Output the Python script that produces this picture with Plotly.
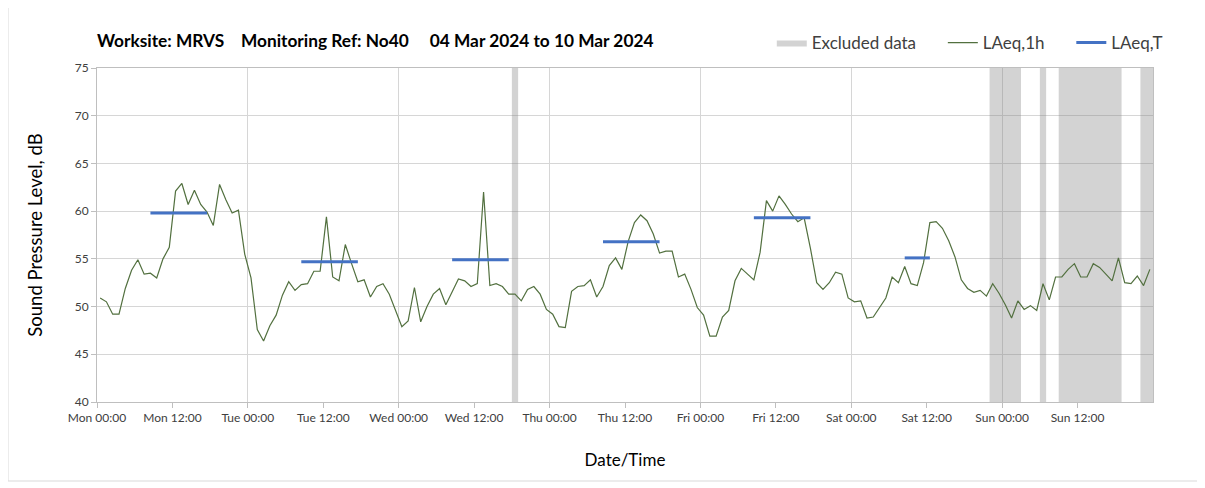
import pandas as pd
import plotly.graph_objects as go

# ---- data -------------------------------------------------------------
# Hourly LAeq,1h values (dB), Mon 04 Mar 2024 00:00 .. Sun 10 Mar 2024 23:00
laeq_mon = [50.9, 50.5, 49.2, 49.2, 51.9, 53.8, 54.9, 53.4, 53.5, 53.0, 55.0, 56.2,
            62.1, 62.9, 60.7, 62.2, 60.7, 59.9, 58.5, 62.8, 61.2, 59.8, 60.1, 55.5]
laeq_tue = [53.0, 47.6, 46.4, 48.0, 49.1, 51.2, 52.6, 51.7, 52.3, 52.4, 53.7, 53.7,
            59.4, 53.1, 52.7, 56.5, 54.5, 52.6, 52.8, 51.0, 52.1, 52.4, 51.3, 49.6]
laeq_wed = [47.9, 48.5, 52.0, 48.4, 50.0, 51.3, 51.9, 50.2, 51.6, 52.9, 52.7, 52.1,
            52.4, 62.0, 52.2, 52.4, 52.1, 51.3, 51.3, 50.6, 51.8, 52.1, 51.3, 49.7]
laeq_thu = [49.2, 47.9, 47.8, 51.6, 52.1, 52.2, 52.8, 51.0, 52.1, 54.3, 55.1, 53.9,
            56.8, 58.8, 59.6, 59.0, 57.6, 55.6, 55.8, 55.8, 53.1, 53.4, 51.8, 49.9]
laeq_fri = [49.1, 46.9, 46.9, 48.9, 49.6, 52.7, 54.0, 53.4, 52.8, 55.7, 61.1, 60.0,
            61.6, 60.7, 59.7, 58.9, 59.3, 56.1, 52.5, 51.8, 52.5, 53.6, 53.4, 50.9]
laeq_sat = [50.5, 50.6, 48.8, 48.9, 49.9, 50.9, 53.1, 52.5, 54.2, 52.4, 52.2, 54.6,
            58.8, 58.9, 58.2, 56.9, 55.2, 52.8, 51.9, 51.5, 51.7, 51.1, 52.4, 51.4]
laeq_sun = [50.2, 48.8, 50.6, 49.7, 50.1, 49.6, 52.4, 50.7, 53.1, 53.1, 53.9, 54.5,
            53.1, 53.1, 54.5, 54.1, 53.4, 52.7, 55.1, 52.5, 52.4, 53.2, 52.2, 53.9]

# LAeq,T over the working period of each day
laeqT_start = ["2024-03-04 08:30", "2024-03-05 08:30", "2024-03-06 08:30",
               "2024-03-07 08:30", "2024-03-08 08:30", "2024-03-09 08:30"]
laeqT_end = ["2024-03-04 17:30", "2024-03-05 17:30", "2024-03-06 17:30",
             "2024-03-07 17:30", "2024-03-08 17:30", "2024-03-09 12:30"]
laeqT_value = [59.8, 54.7, 54.9, 56.8, 59.3, 55.1]

# Excluded data periods
excl_start = ["2024-03-06 18:00", "2024-03-09 22:00", "2024-03-10 06:00",
              "2024-03-10 09:00", "2024-03-10 22:00"]
excl_end = ["2024-03-06 19:00", "2024-03-10 03:00", "2024-03-10 07:00",
            "2024-03-10 19:00", "2024-03-11 00:00"]

# Axis
x_start, x_end = "2024-03-04 00:00", "2024-03-11 00:00"
y_min, y_max = 40, 75

# ---- build -------------------------------------------------------------
laeq_1h = laeq_mon + laeq_tue + laeq_wed + laeq_thu + laeq_fri + laeq_sat + laeq_sun
times = pd.date_range("2024-03-04 00:30", periods=len(laeq_1h), freq="h")

ex_x, ex_y = [], []
for s, e in zip(excl_start, excl_end):
    ex_x += [s, s, e, e, s, None]
    ex_y += [y_min, y_max, y_max, y_min, y_min, None]

t_x, t_y = [], []
for s, e, v in zip(laeqT_start, laeqT_end, laeqT_value):
    t_x += [s, e, None]
    t_y += [v, v, None]

tick_vals = pd.date_range(x_start, x_end, freq="12h")[:-1]

FONT = "Lato"
TXT = "#404040"
GRID = "#d6d6d6"
nb = "\u00a0"

# figure geometry (page body adds an 8 px offset)
W, H = 1197, 480
ML, MR, MT, MB = 89, 52, 60, 86
PW, PH = W - ML - MR, H - MT - MB

fig = go.Figure()
fig.add_trace(go.Scatter(
    x=ex_x, y=ex_y, mode="lines", fill="toself",
    fillcolor="rgba(128,128,128,0.35)", line=dict(width=0),
    name="Excluded data" + nb * 5, hoverinfo="skip"))
fig.add_trace(go.Scatter(
    x=times, y=laeq_1h, mode="lines", name="LAeq,1h" + nb * 5,
    line=dict(color="#52703f", width=1.2)))
fig.add_trace(go.Scatter(
    x=t_x, y=t_y, mode="lines", name="LAeq,T",
    line=dict(color="#4472c4", width=3)))
# invisible trace so the daily-grid overlay axis is rendered
fig.add_trace(go.Scatter(x=[x_start], y=[None], xaxis="x2", mode="lines",
                         showlegend=False, hoverinfo="skip"))

title = ("Worksite: MRVS" + nb * 4 + "Monitoring Ref: No40" + nb * 5 +
         "04 Mar 2024 to 10 Mar 2024")

fig.update_layout(
    width=W, height=H,
    margin=dict(l=ML, r=MR, t=MT, b=MB, autoexpand=False),
    paper_bgcolor="white", plot_bgcolor="white",
    font=dict(family=FONT, color=TXT),
    title=dict(text="<b>" + title + "</b>", x=ML / W, xanchor="left",
               y=1 - 33 / H, yanchor="middle",
               font=dict(family=FONT, size=17.3, color="#000000")),
    showlegend=True,
    legend=dict(orientation="h", x=1.014, xanchor="right", y=(MT + PH - 35) / PH,
                yanchor="middle",
                font=dict(family=FONT, size=17, color=TXT), bgcolor="rgba(0,0,0,0)",
                traceorder="normal", itemwidth=30),
    xaxis=dict(
        range=[x_start, x_end], type="date", automargin=False,
        tickmode="array", tickvals=tick_vals, tickformat="%a %H:%M",
        ticks="outside", ticklen=5, tickcolor="#bfbfbf",
        showgrid=False, showline=True, linecolor="#bfbfbf", mirror=True,
        tickfont=dict(family=FONT, size=12, color=TXT),
        title=dict(text="Date/Time", font=dict(family=FONT, size=17, color="#000000"),
                   standoff=29),
        zeroline=False),
    xaxis2=dict(
        range=[x_start, x_end], type="date", overlaying="x", side="bottom",
        tick0=x_start, dtick=86400000, showgrid=True, gridcolor=GRID, gridwidth=1,
        showticklabels=False, ticks="", showline=False, zeroline=False),
    yaxis=dict(
        range=[y_min, y_max], dtick=5, ticks="outside", ticklen=5, tickcolor="#bfbfbf",
        showgrid=True, gridcolor=GRID, showline=True, linecolor="#bfbfbf", mirror=True,
        tickfont=dict(family=FONT, size=12, color=TXT), zeroline=False, automargin=False,
        title=dict(text="Sound Pressure Level, dB",
                   font=dict(family=FONT, size=18.5, color="#000000"), standoff=27)),
    shapes=[dict(type="rect", xref="paper", yref="paper",
                 x0=(0 - ML) / PW, x1=(W + 20 - ML) / PW,
                 y0=(MT + PH - 473) / PH, y1=(MT + PH + 20) / PH,
                 line=dict(color="#d9d9d9", width=1), fillcolor="rgba(0,0,0,0)",
                 layer="below")],
)

fig.write_html("out.html")
